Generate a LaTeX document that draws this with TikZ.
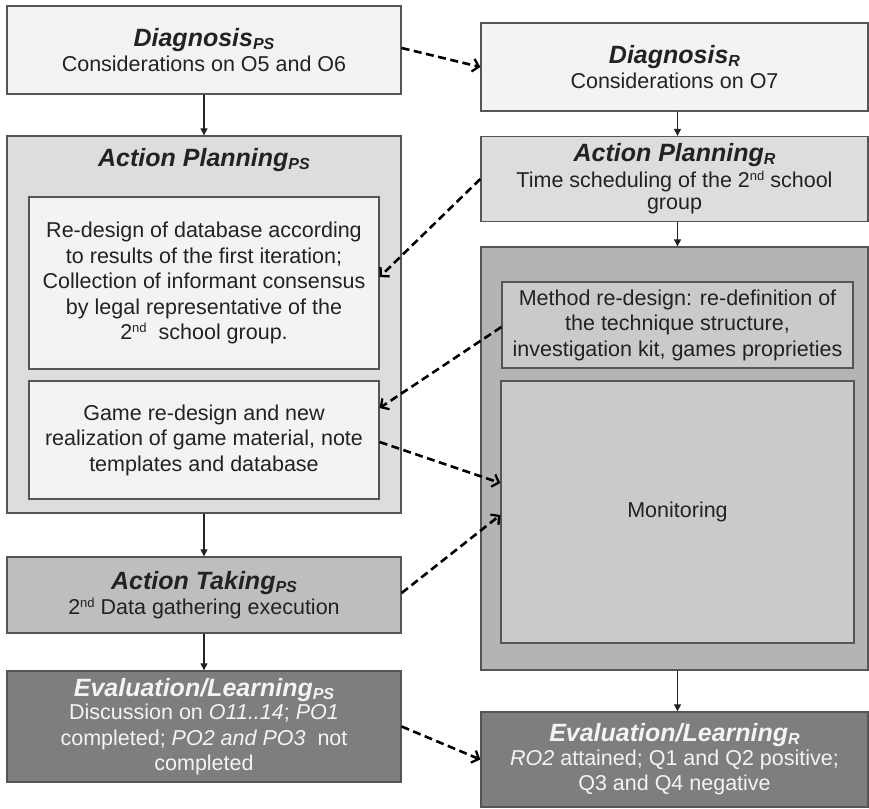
\documentclass[tikz,border=0pt]{standalone}
\usepackage{fontspec}
\setmainfont{Liberation Sans}
\usetikzlibrary{arrows.meta}
\definecolor{edge}{HTML}{555555}
\definecolor{ink}{HTML}{222222}
\definecolor{paleFill}{HTML}{F3F3F3}
\definecolor{lightFill}{HTML}{DDDDDD}
\definecolor{midFill}{HTML}{BEBEBE}
\definecolor{monOuter}{HTML}{B4B4B4}
\definecolor{monInner}{HTML}{CACACA}
\definecolor{darkFill}{HTML}{7E7E7E}
\definecolor{lightInk}{HTML}{F4F4F4}
\newcommand{\ttl}[2]{{\fontsize{25}{28}\selectfont\bfseries\itshape #1}{\fontsize{16}{16}\selectfont\bfseries\itshape\raisebox{-3pt}{#2}}}
\newcommand{\sps}[1]{\raisebox{7pt}{\fontsize{13}{13}\selectfont #1}}
\tikzset{
  box/.style={draw=edge, line width=1.3pt, rectangle, inner sep=0pt, align=center,
    text=ink, font=\fontsize{21.5}{25.5}\selectfont},
  flow/.style={draw=ink, line width=1.1pt, -{Triangle[length=7pt,width=7pt]}},
  link/.style={draw=black, line width=2.6pt, dash pattern=on 8pt off 4.5pt,
    -{Straight Barb[length=6pt,width=13pt,line width=2.3pt]}}
}
\begin{document}
\begin{tikzpicture}[x=1pt,y=-1pt]
\useasboundingbox (0,0) rectangle (869,808);
% left column: PS cycle
\node[box, fill=paleFill, minimum width=394pt, minimum height=88pt] (dps) at (204,50)
  {\ttl{Diagnosis}{PS}\\[-1pt]Considerations on O5 and O6};
\node[box, fill=lightFill, minimum width=394pt, minimum height=377pt] (aps) at (204,324.5) {};
\node[text=ink, anchor=center] (apsT) at (204,160) {\ttl{Action Planning}{PS}};
\node[box, fill=paleFill, minimum width=350pt, minimum height=172pt] (ip1) at (204,283)
  {Re-design of database according\\to results of the first iteration;\\Collection of informant consensus\\by legal representative of the\\2\sps{nd}\ \ school group.};
\node[box, fill=paleFill, minimum width=350pt, minimum height=118pt] (ip2) at (204,440)
  {Game re-design and new\\realization of game material, note\\templates and database};
\node[box, fill=midFill, minimum width=394pt, minimum height=76pt] (atps) at (204,595)
  {\ttl{Action Taking}{PS}\\[-1pt]2\sps{nd} Data gathering execution};
\node[box, fill=darkFill, text=lightInk, minimum width=394pt, minimum height=111pt] (evps) at (204,726.5)
  {\ttl{Evaluation/Learning}{PS}\\[-2pt]Discussion on \textit{O11..14}; \textit{PO1}\\completed; \textit{PO2 and PO3} \ not\\completed};
% right column: R cycle
\node[box, fill=paleFill, minimum width=387pt, minimum height=88pt] (dr) at (674.5,67)
  {\ttl{Diagnosis}{R}\\[-1pt]Considerations on O7};
\node[box, fill=lightFill, minimum width=387pt, minimum height=85pt] (apr) at (674.5,179)
  {\ttl{Action Planning}{R}\\[0pt]Time scheduling of the 2\sps{nd} school\\[-3pt]group};
\node[box, fill=monOuter, minimum width=387pt, minimum height=423pt] (mo) at (674.5,458.5) {};
\node[box, fill=monInner, minimum width=351pt, minimum height=86pt] (meth) at (677.5,325)
  {Method re-design: re-definition of\\the technique structure,\\investigation kit, games proprieties};
\node[box, fill=monInner, minimum width=353pt, minimum height=262pt] (mon) at (677.5,512) {Monitoring};
\node[box, fill=darkFill, text=lightInk, minimum width=387pt, minimum height=95pt] (evr) at (674.5,759.5)
  {\ttl{Evaluation/Learning}{R}\\[-2pt]\textit{RO2} attained; Q1 and Q2 positive;\\Q3 and Q4 negative};
% sequential flow
\draw[flow] (dps.south) -- (aps.north);
\draw[flow] (aps.south) -- (atps.north);
\draw[flow] (atps.south) -- (evps.north);
\draw[flow] ([xshift=3pt]dr.south) -- ([xshift=3pt]apr.north);
\draw[flow] ([xshift=3pt]apr.south) -- ([xshift=3pt]mo.north);
\draw[flow] ([xshift=3pt]mo.south) -- ([xshift=3pt]evr.north);
% cross links between the two cycles
\draw[link] ([yshift=2pt]dps.east) -- (dr.west);
\draw[link] (apr.west) -- ([yshift=6pt]ip1.east);
\draw[link] ([yshift=-2pt]meth.west) -- ([yshift=32pt]ip2.east);
\draw[link] ([yshift=-2pt]ip2.east) -- ([yshift=29pt]mon.west);
\draw[link] ([yshift=2pt]atps.east) -- ([yshift=-3pt]mon.west);
\draw[link] (evps.east) -- (evr.west);
\end{tikzpicture}
\end{document}
